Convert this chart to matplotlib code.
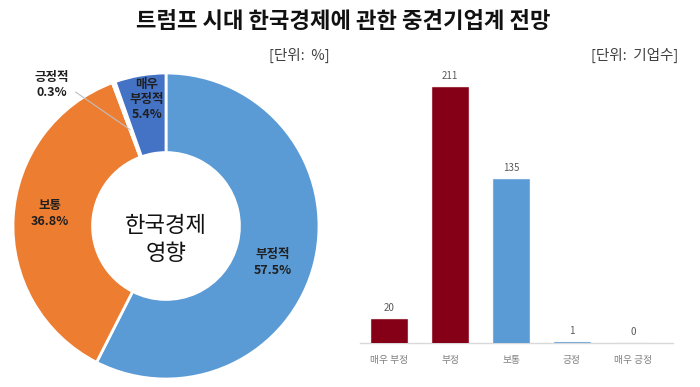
import matplotlib
matplotlib.use("Agg")
import matplotlib.pyplot as plt

plt.rcParams['font.family'] = ['Noto Sans CJK KR', 'DejaVu Sans']

# ── data ──────────────────────────────────────────────────────────────────────
PIE_LABELS = ["부정적", "보통", "긍정적", "매우\n부정적"]
PIE_VALUES = [57.5, 36.8, 0.3, 5.4]
PIE_COLORS = ["#5B9BD5", "#ED7D31", "#FFC000", "#4472C4"]

BAR_CATS   = ["매우 부정", "부정", "보통", "긍정", "매우 긍정"]
BAR_VALUES = [20, 211, 135, 1, 0]
BAR_COLORS = ["#850016", "#850016", "#5B9BD5", "#5B9BD5", "#5B9BD5"]

DARK = "#1F1F1F"
GRAY = "#595959"

fig = plt.figure(figsize=(7, 3.87), dpi=100)
fig.patch.set_facecolor("white")

fig.text(0.49, 0.945, "트럼프 시대 한국경제에 관한 중견기업계 전망",
         ha="center", va="center", fontsize=16, fontweight="bold", color="#111111")
fig.text(0.427, 0.858, "[단위:  %]", ha="center", va="center", fontsize=10.5, color="#404040")
fig.text(0.906, 0.858, "[단위:  기업수]", ha="center", va="center", fontsize=10.5, color="#404040")

# ── donut ─────────────────────────────────────────────────────────────────────
ax = fig.add_axes([13 / 700, 8 / 387, 306 / 700, 306 / 387])
ax.pie(PIE_VALUES, colors=PIE_COLORS, startangle=90, counterclock=False,
       wedgeprops=dict(width=0.52, edgecolor="white", linewidth=2))
ax.set_xlim(-1, 1)
ax.set_ylim(-1, 1)
ax.set_aspect("auto")

ax.text(0, -0.09, "한국경제\n영향", ha="center", va="center",
        fontsize=16, color="#111111", linespacing=1.3)

pct = [f"{v}%" for v in PIE_VALUES]
lbl = dict(ha="center", va="center", fontsize=9, color=DARK,
           fontweight="bold", clip_on=False)
ax.text(0.70, -0.24, f"{PIE_LABELS[0]}\n{pct[0]}", linespacing=1.3, **lbl)
ax.text(-0.76, 0.08, f"{PIE_LABELS[1]}\n{pct[1]}", linespacing=1.3, **lbl)
ax.text(-0.745, 0.92, f"{PIE_LABELS[2]}\n{pct[2]}", linespacing=1.2, **lbl)
ax.text(-0.124, 0.824, f"{PIE_LABELS[3]}\n{pct[3]}", linespacing=1.2, **lbl)
ax.plot([-0.59, -0.235], [0.875, 0.63], color="#BFBFBF", linewidth=0.8, clip_on=False)

# ── bars ──────────────────────────────────────────────────────────────────────
bx = fig.add_axes([360 / 700, 44 / 387, 313 / 700, 303 / 387])
xs = range(len(BAR_CATS))
bars = bx.bar(xs, BAR_VALUES, width=0.59, color=BAR_COLORS,
              edgecolor=[c + "99" for c in BAR_COLORS], linewidth=0.8, zorder=3)
for b, v in zip(bars, BAR_VALUES):
    bx.text(b.get_x() + b.get_width() / 2, b.get_height() + 5, f"{v}",
            ha="center", va="bottom", fontsize=7, color=GRAY)

bx.set_xlim(-0.48, 4.66)
bx.set_ylim(0, 250)
bx.set_xticks(list(xs))
bx.set_xticklabels(BAR_CATS, fontsize=7, color="#7F7F7F")
bx.tick_params(length=0, pad=9)
bx.set_yticks([])
for s in ["top", "right", "left"]:
    bx.spines[s].set_visible(False)
bx.spines["bottom"].set_color("#D9D9D9")
bx.spines["bottom"].set_linewidth(1)

fig.savefig("out.png", dpi=100, facecolor="white")
